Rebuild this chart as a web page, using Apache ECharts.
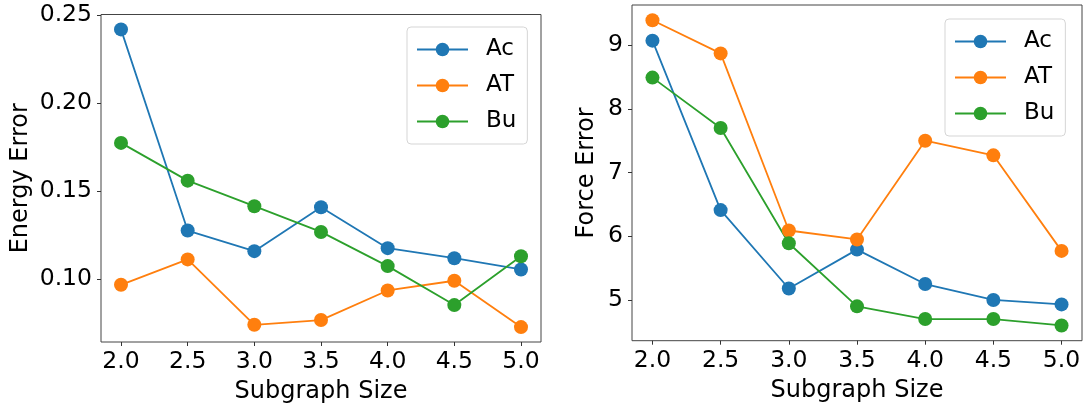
<!DOCTYPE html>
<html>
<head>
<meta charset="utf-8">
<script src="https://cdn.jsdelivr.net/npm/echarts@6/dist/echarts.min.js"></script>
<style>
html,body{margin:0;padding:0;background:#fff;}
#chart{width:1083px;height:403px;}
</style>
</head>
<body>
<div id="chart"></div>
<script>
// ---- data ----
const subgraphSizes = [2.0, 2.5, 3.0, 3.5, 4.0, 4.5, 5.0];
const seriesNames = ['Ac', 'AT', 'Bu'];
const energyAc = [0.2417, 0.1276, 0.1159, 0.1408, 0.1176, 0.1119, 0.1055];
const energyAT = [0.0968, 0.1112, 0.0741, 0.0768, 0.0936, 0.0991, 0.0728];
const energyBu = [0.1773, 0.1559, 0.1414, 0.1268, 0.1074, 0.0853, 0.1130];
const forceAc = [9.07, 6.41, 5.18, 5.79, 5.25, 5.00, 4.93];
const forceAT = [9.39, 8.87, 6.09, 5.95, 7.50, 7.27, 5.77];
const forceBu = [8.49, 7.70, 5.89, 4.90, 4.70, 4.70, 4.60];
const xTicks = [2.0, 2.5, 3.0, 3.5, 4.0, 4.5, 5.0];
const energyTicks = [0.10, 0.15, 0.20, 0.25];
const forceTicks = [5, 6, 7, 8, 9];

const colors = ['#1f77b4', '#ff7f0e', '#2ca02c'];
const FONT = 'DejaVu Sans';

function pad(arrs) {
  const all = [].concat(...arrs);
  const lo = Math.min(...all), hi = Math.max(...all);
  const m = (hi - lo) * 0.05;
  return [lo - m, hi + m];
}
const xr = pad([subgraphSizes]);
const er = pad([energyAc, energyAT, energyBu]);
const fr = pad([forceAc, forceAT, forceBu]);

function pairs(ys) { return subgraphSizes.map((x, i) => [x, ys[i]]); }

const axisCommon = {
  axisLine: { show: false },
  splitLine: { show: false },
};
function xAxis(gridIndex) {
  return Object.assign({}, axisCommon, {
    type: 'value', gridIndex, min: xr[0], max: xr[1],
    name: 'Subgraph Size', nameLocation: 'middle', nameGap: 38,
    nameTextStyle: { fontFamily: FONT, fontSize: 24, color: '#000' },
    axisTick: { show: true, inside: false, length: 4, lineStyle: { color: '#333' }, customValues: xTicks },
    axisLabel: { customValues: xTicks, margin: 8, fontFamily: FONT, fontSize: 23.5, color: '#000',
      formatter: v => Number(v).toFixed(1) }
  });
}
function yAxis(gridIndex, r, ticks, name, gap, dec) {
  return Object.assign({}, axisCommon, {
    type: 'value', gridIndex, min: r[0], max: r[1],
    name, nameLocation: 'middle', nameGap: gap,
    nameTextStyle: { fontFamily: FONT, fontSize: 24, color: '#000' },
    axisTick: { show: true, inside: false, length: 4, lineStyle: { color: '#333' }, customValues: ticks },
    axisLabel: { customValues: ticks, margin: 9, fontFamily: FONT, fontSize: 23.5, color: '#000',
      formatter: v => Number(v).toFixed(dec) }
  });
}
function legend(left, top) {
  return {
    left, top, orient: 'vertical',
    data: seriesNames,
    itemWidth: 51, itemHeight: 17, itemGap: 13,
    padding: [11, 11, 11, 9],
    borderColor: '#d5d5d5', borderWidth: 1, borderRadius: 4,
    backgroundColor: 'rgba(255,255,255,0.8)',
    textStyle: { fontFamily: FONT, fontSize: 23, color: '#000', lineHeight: 22, padding: [0, 0, 0, 13] },
    selectedMode: false
  };
}
function series(name, ys, idx, color) {
  return {
    name, type: 'line', xAxisIndex: idx, yAxisIndex: idx,
    data: pairs(ys), symbol: 'circle', symbolSize: 14, showSymbol: true,
    color, lineStyle: { width: 1.8, color }, itemStyle: { color },
    emphasis: { disabled: true }, animation: false
  };
}

const chart = echarts.init(document.getElementById('chart'), null, { renderer: 'canvas' });
chart.setOption({
  animation: false,
  grid: [
    { left: 101, top: 14.5, width: 440, height: 327.5, outerBoundsMode: 'none', containLabel: false, show: true, borderColor: '#444', borderWidth: 1, backgroundColor: 'transparent' },
    { left: 632, top: 5, width: 450, height: 335.7, outerBoundsMode: 'none', containLabel: false, show: true, borderColor: '#444', borderWidth: 1, backgroundColor: 'transparent' }
  ],
  xAxis: [xAxis(0), xAxis(1)],
  yAxis: [
    yAxis(0, er, energyTicks, 'Energy Error', 68, 2),
    yAxis(1, fr, forceTicks, 'Force Error', 33, 0)
  ],
  legend: [legend(407, 27), legend(945, 19)],
  series: [
    series('Ac', energyAc, 0, colors[0]),
    series('AT', energyAT, 0, colors[1]),
    series('Bu', energyBu, 0, colors[2]),
    series('Ac', forceAc, 1, colors[0]),
    series('AT', forceAT, 1, colors[1]),
    series('Bu', forceBu, 1, colors[2])
  ]
});
</script>
</body>
</html>
